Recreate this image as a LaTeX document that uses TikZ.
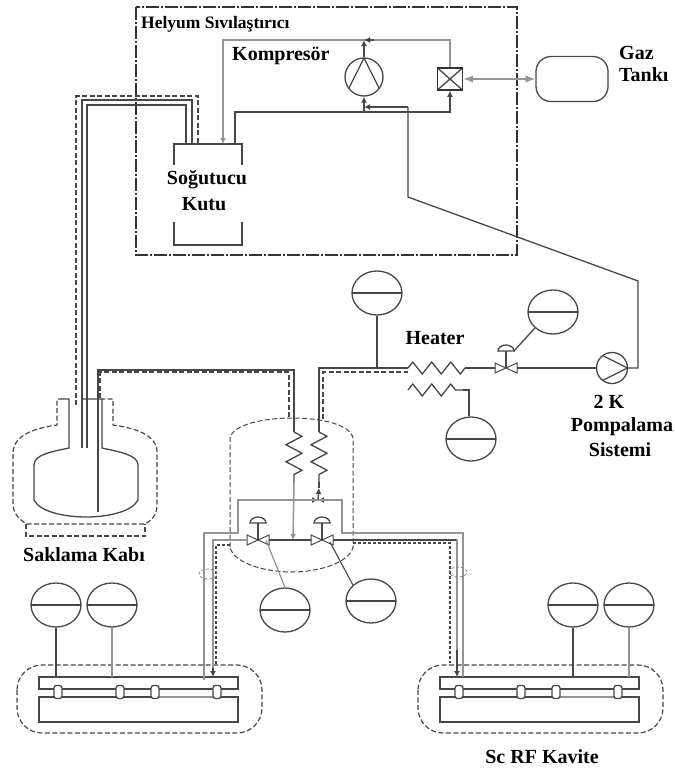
\documentclass[tikz,border=0pt]{standalone}
\usepackage{fontspec}
\setmainfont{Liberation Serif}
\usetikzlibrary{positioning, calc, arrows.meta, shapes.geometric, decorations.pathmorphing}
\begin{document}
\begin{tikzpicture}[
        x=1pt, y=-1pt,
        pipe/.style={draw=black!72, line width=1.3pt},
        gaspipe/.style={draw=black!42, line width=1.5pt},
        shield/.style={draw=black!72, line width=1.2pt, dash pattern=on 5pt off 2.5pt},
        frame/.style={draw=black!80, line width=1.2pt, dash pattern=on 13pt off 2pt on 2pt off 2pt},
        tip/.style={-{Latex[length=6pt,width=6pt]}},
        lbl/.style={font=\bfseries\fontsize{20}{20}\selectfont, inner sep=0pt},
        gauge/.style={ellipse, pipe, fill=white, inner sep=0pt, minimum width=50pt, minimum height=44pt,
            path picture={\draw[pipe] (path picture bounding box.west) -- (path picture bounding box.east);}},
        compbox/.style={circle, pipe, fill=white, inner sep=0pt, minimum size=38pt,
            path picture={\draw[pipe] (path picture bounding box.north) -- (path picture bounding box.south west)
                (path picture bounding box.north) -- (path picture bounding box.south east);}},
        pumpbox/.style={circle, pipe, inner sep=0pt, minimum size=31pt,
            path picture={\draw[pipe] (path picture bounding box.east) -- (path picture bounding box.north west)
                (path picture bounding box.east) -- (path picture bounding box.south west);}},
        crossbox/.style={rectangle, draw=black!80, line width=1.6pt, inner sep=0pt, minimum width=25pt, minimum height=22pt,
            path picture={\draw[pipe] (path picture bounding box.north west) -- (path picture bounding box.south east)
                (path picture bounding box.north east) -- (path picture bounding box.south west);}},
        port/.style={rectangle, rounded corners=2.5pt, pipe, fill=white, inner sep=0pt, minimum width=8pt, minimum height=13pt},
        coil/.style 2 args={pipe, decorate, decoration={zigzag, segment length=#1, amplitude=#2}},
        pics/valve/.style={code={
            \coordinate (-w) at (-11,0);
            \coordinate (-e) at (11,0);
            \draw[pipe, line width=1pt] (-11,-5) -- (11,5) -- (11,-5) -- (-11,5) -- cycle;
            \draw[pipe] (0,0) -- (0,-17);
            \draw[pipe] (-8,-17) arc (180:360:8 and 6) -- cycle;
        }},
        pics/cavity/.style={code={
            \coordinate (-top) at (0,0);
            \draw[pipe] (0,0) rectangle (199,12);
            \draw[pipe] (0,20) rectangle (199,45);
            \draw[gaspipe] (116,20) -- (178,20);
            \foreach \px in {19,81,116,178} {
                \node[port] (-p\px) at (\px,15) {};
            }
            \draw[shield, rounded corners=25pt] (-22,-12) rectangle (223,56);
        }},
    ]
    \useasboundingbox (0,0) rectangle (675,769);

    % Helium liquefier
    \draw[frame] (136,7) rectangle (517,255);
    \node[lbl, anchor=west, font=\bfseries\fontsize{17.5}{17.5}\selectfont] (helium) at (141,24) {Helyum Sıvılaştırıcı};
    \node[lbl, anchor=west] (kompresor) at (232,56) {Kompresör};
    \node[compbox] (comp) at (364,77) {};
    \node[crossbox] (xbox) at (450,79) {};
    \node[rectangle, rounded corners=15pt, pipe, minimum width=72pt, minimum height=45pt] (tank) at (572,79) {};
    \node[lbl, anchor=west] (gaz) at (619,53) {Gaz};
    \node[lbl, anchor=west] (tanki) at (619,75) {Tankı};

    % Cold box
    \coordinate (cold) at (174,144);
    \draw[pipe] (174,165) -- (cold) -- (242,144) -- (242,165);
    \draw[pipe] (174,222) -- (174,245) -- (242,245) -- (242,222);
    \node[lbl] (sogutucu) at (207,180) {Soğutucu};
    \node[lbl] (kutu) at (204,204) {Kutu};

    \coordinate (topj) at (364,40);
    \coordinate (lowj) at (364,112);
    \coordinate (retj) at (364,107);
    \draw[gaspipe, tip] (xbox.north) -- (450,40) -- (223,40) -- (223,144);
    \draw[pipe, tip] (374,40) -- (topj);
    \draw[pipe, tip] (comp.north) -- (topj);
    \draw[pipe, tip] (235,144) -- (235,112) -- (450,112) -- (xbox.south);
    \draw[pipe, tip] (lowj) -- (comp.south);
    \draw[Latex-Latex, gaspipe] (xbox.east) -- (tank.west);

    % Transfer line
    \draw[shield] (76,405) -- (76,96) -- (198,96) -- (198,144);
    \draw[pipe] (82,448) -- (82,100) -- (192,100) -- (192,144);
    \draw[pipe] (87,448) -- (87,105) -- (186,105) -- (186,144);

    % Storage vessel
    \draw[pipe] (63,399) -- (69,399) -- (69,448) .. controls (50,452) and (34,455) .. (34,465) -- (34,500)
        .. controls (40,512) and (65,517) .. (86,517) .. controls (107,517) and (132,512) .. (138,500)
        -- (138,465) .. controls (138,455) and (120,452) .. (102,448) -- (102,399) -- (82,399);
    \draw[shield] (63,399) -- (57,399) -- (57,425) .. controls (35,428) and (14,435) .. (13,452) -- (13,505)
        .. controls (14,515) and (20,520) .. (27,524) -- (145,524) .. controls (152,520) and (157,515) .. (157,505)
        -- (157,452) .. controls (157,435) and (135,428) .. (113,425) -- (113,399) -- (102,399);
    \draw[shield] (26,524) -- (26,536) -- (145,536) -- (145,524);
    \node[lbl] (saklama) at (84,555) {Saklama Kabı};

    % Cryostat
    \draw[shield, line width=1pt] (230,547) -- (230,438) .. controls (233,424) and (265,418) .. (292,418)
        .. controls (320,418) and (350,424) .. (353,438) -- (353,547)
        .. controls (350,562) and (320,572) .. (292,572) .. controls (262,572) and (233,562) .. (230,547);
    \draw[pipe] (98,512) -- (98,370) -- (294,370) -- (294,432);
    \draw[shield] (100,398) -- (100,372) -- (289,372) -- (289,419);
    \draw[coil={17pt}{8pt}] (294,432) -- (294,482);
    \draw[coil={17pt}{8pt}] (319,432) -- (319,482);
    \draw[pipe] (319,432) -- (319,368) -- (400,368);
    \draw[shield] (323,419) -- (323,372) -- (408,372);
    \coordinate (valvej) at (293,540);
    \draw[gaspipe, tip] (294,482) -- (valvej);
    \coordinate (teej) at (318,500);
    \draw[pipe] (319,482) -- (319,488);
    \draw[pipe, tip] (teej) -- (319,488);
    \draw[pipe, tip] (308,500) -- (teej);
    \draw[pipe, tip] (328,500) -- (teej);

    % Valves and gauges at the cryostat
    \pic (vleft) at (258,540) {valve};
    \pic (vright) at (322,540) {valve};
    \node[gauge] (gcoldl) at (285,610) {};
    \node[gauge] (gcoldr) at (371,601) {};
    \draw[pipe] (vleft-e) -- (vright-w);
    \draw[gaspipe, line width=1.2pt] (266,540) -- (gcoldl.north);
    \draw[pipe, line width=1.1pt] (330,542) -- (gcoldr.north west);

    % Cavities
    \pic (cavl) at (39,677) {cavity};
    \pic (cavr) at (440,677) {cavity};
    \node[lbl] (kavite) at (542,757) {Sc RF Kavite};
    \draw[gaspipe] (204,680) -- (204,533) -- (238,533) -- (238,500) -- (342,500) -- (342,533) -- (463,533) -- (463,677);
    \draw[gaspipe] (vleft-w) -- (213,540) -- (213,668);
    \draw[pipe] (vright-e) -- (457,540);
    \draw[gaspipe] (457,540) -- (457,650);
    \draw[pipe, tip] (457,650) -- (457,677);
    \draw[pipe, tip] (213,668) -- (213,677);
    \draw[shield, densely dashed] (230,545) -- (216,545) -- (216,665);
    \draw[shield, densely dashed] (353,543) -- (450,543) -- (450,663);
    \node[ellipse, draw=black!50, densely dashed, line width=0.7pt, inner sep=0pt, minimum width=18pt, minimum height=10pt] (breakl) at (208,574) {};
    \node[ellipse, draw=black!50, densely dashed, line width=0.7pt, inner sep=0pt, minimum width=18pt, minimum height=10pt] (breakr) at (458,572) {};

    \node[gauge] (gl1) at (56,605) {};
    \node[gauge] (gl2) at (112,605) {};
    \node[gauge] (gr1) at (573,605) {};
    \node[gauge] (gr2) at (629,605) {};
    \draw[pipe] (gl1.south) -- (gl1.south |- cavl-top);
    \draw[gaspipe] (gl2.south) -- (gl2.south |- cavl-top);
    \draw[pipe] (gr1.south) -- (gr1.south |- cavr-top);
    \draw[gaspipe] (gr2.south) -- (gr2.south |- cavr-top);

    % Heater and pumping line
    \node[gauge] (gtop) at (377,293) {};
    \coordinate (heatj) at (377,368);
    \draw[pipe] (gtop.south) -- (heatj);
    \node[lbl] (heater) at (435,338) {Heater};
    \draw[pipe] (400,368) -- (408,368);
    \draw[coil={19pt}{6pt}] (408,368) -- (465,368);
    \draw[coil={19pt}{6pt}] (408,390) -- (463,390);
    \node[gauge] (gheat) at (471,439) {};
    \draw[pipe] (463,390) -- (469,390) -- (gheat.north -| 469,0);
    \pic (vpump) at (506,368) {valve};
    \draw[pipe] (465,368) -- (vpump-w);
    \node[gauge] (gpump) at (553,312) {};
    \draw[pipe] (514,351) -- (gpump.south west);
    \node[pumpbox] (pump) at (612,368) {};
    \draw[pipe] (vpump-e) -- (pump.west);
    \draw[pipe] (pump.east) -- (638,368) -- (638,281) -- (408,197) -- (408,107);
    \draw[pipe, tip] (408,107) -- (retj);
    \node[lbl] (ik) at (609,402) {2 K};
    \node[lbl] (pompalama) at (622,427) {Pompalama};
    \node[lbl] (sistemi) at (620,450) {Sistemi};
\end{tikzpicture}
\end{document}
